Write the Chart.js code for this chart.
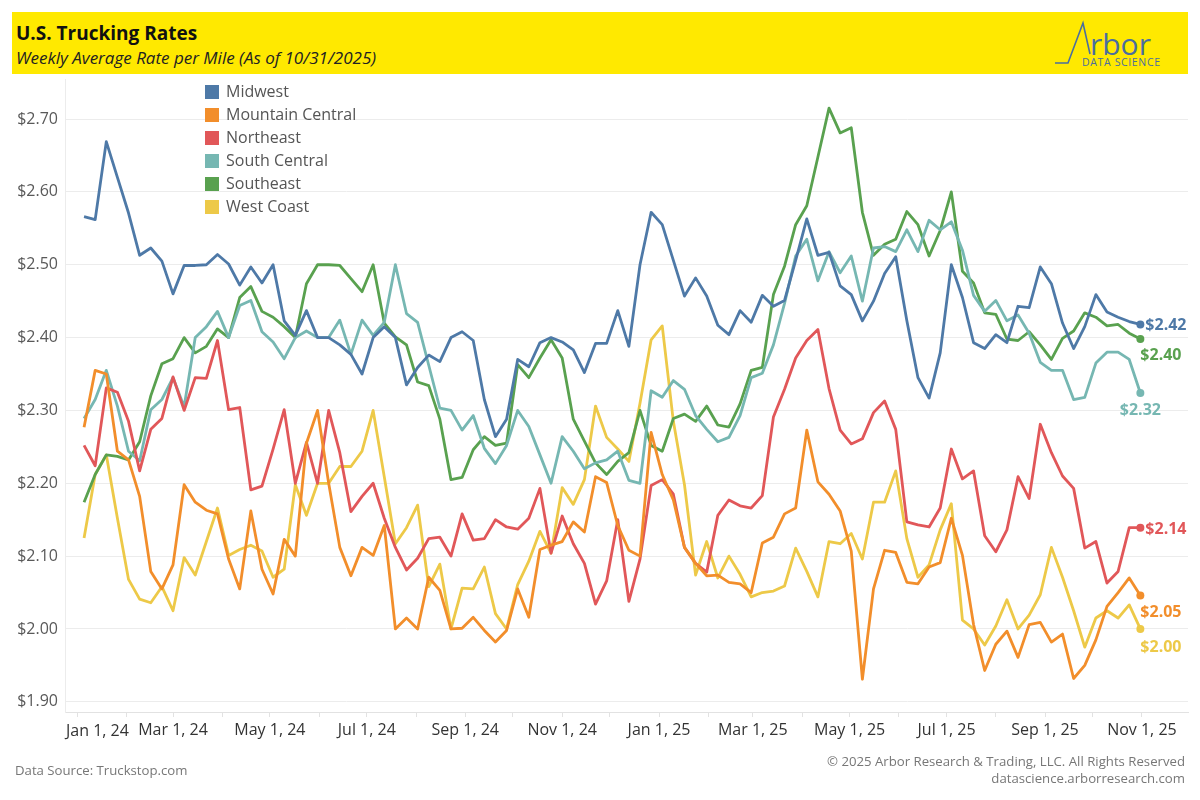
<!DOCTYPE html>
<html>
<head>
<meta charset="utf-8">
<title>U.S. Trucking Rates</title>
<script src="https://cdn.jsdelivr.net/npm/chart.js@4.4.1/dist/chart.umd.min.js"></script>
<style>
  html, body { margin: 0; padding: 0; background: #fff; }
  body { width: 1200px; height: 800px; position: relative; overflow: hidden; font-family: "Open Sans", sans-serif; }
  #chart { position: absolute; left: 0; top: 0; }
  .header { position: absolute; left: 12px; top: 12px; width: 1176px; height: 62px; background: #ffe900; }
  .title { position: absolute; left: 4px; top: 8px; font-size: 19px; font-weight: bold; color: #111; }
  .subtitle { position: absolute; left: 4px; top: 34px; font-size: 17px; font-style: italic; color: #222; }
  .logo { position: absolute; left: 0; top: 0; }
  .legend { position: absolute; left: 205px; top: 80px; font-size: 16px; color: #555; }
  .legend div { height: 23px; line-height: 23px; white-space: nowrap; }
  .legend span { display: inline-block; width: 14px; height: 14px; margin-right: 7px; vertical-align: -2px; }
  .source { position: absolute; left: 15px; top: 761px; font-size: 13.2px; color: #777; }
  .copy { position: absolute; right: 15px; top: 753px; font-size: 13.2px; color: #777; text-align: right; line-height: 17px; }
</style>
</head>
<body>
<canvas id="chart" width="1200" height="800"></canvas>
<div class="header">
  <div class="title">U.S. Trucking Rates</div>
  <div class="subtitle">Weekly Average Rate per Mile (As of 10/31/2025)</div>
</div>
<svg class="logo" width="1200" height="80">
  <polyline points="1055,63 1068,63 1083,23 1090,54" fill="none" stroke="#4a6e9f" stroke-width="1.6"/>
  <text x="1090" y="55" font-family="Open Sans" font-size="30" fill="#4a6e9f">rbor</text>
  <text x="1082" y="66" font-family="Open Sans" font-size="10.5" fill="#4a6e9f" textLength="78">DATA SCIENCE</text>
</svg>
<div class="legend" id="legend"></div>
<div class="source">Data Source: Truckstop.com</div>
<div class="copy">© 2025 Arbor Research &amp; Trading, LLC. All Rights Reserved<br>datascience.arborresearch.com</div>

<script>
// 系列名と色
const seriesNames = ['Midwest', 'Mountain Central', 'Northeast', 'South Central', 'Southeast', 'West Coast'];
const seriesColors = ['#4e79a7', '#f28e2b', '#e15759', '#76b7b2', '#59a14f', '#edc948'];

// 週次データ（2024/1/5 から 2025/10/31 まで、96週）
const firstWeekDay = 4;   // 2024/1/1 からの日数
const weekCount = 96;

const midwest = [
  2.566, 2.562, 2.669, 2.620, 2.571, 2.513, 2.523, 2.505, 2.460, 2.499, 2.499, 2.500,
  2.514, 2.501, 2.472, 2.497, 2.475, 2.500, 2.423, 2.403, 2.437, 2.400, 2.400, 2.390,
  2.377, 2.350, 2.400, 2.415, 2.400, 2.335, 2.359, 2.376, 2.367, 2.400, 2.408, 2.396,
  2.315, 2.264, 2.288, 2.370, 2.360, 2.393, 2.400, 2.394, 2.383, 2.352, 2.392, 2.392,
  2.437, 2.388, 2.500, 2.572, 2.555, 2.506, 2.457, 2.482, 2.457, 2.417, 2.404, 2.437,
  2.421, 2.458, 2.443, 2.451, 2.506, 2.563, 2.513, 2.517, 2.471, 2.459, 2.423, 2.450,
  2.488, 2.511, 2.423, 2.345, 2.317, 2.379, 2.500, 2.455, 2.393, 2.385, 2.404, 2.393,
  2.443, 2.441, 2.497, 2.474, 2.420, 2.385, 2.415, 2.459, 2.435, 2.428, 2.422, 2.418
];
const mountainCentral = [
  2.277, 2.355, 2.350, 2.244, 2.232, 2.182, 2.079, 2.055, 2.088, 2.198, 2.174, 2.163,
  2.158, 2.096, 2.055, 2.162, 2.082, 2.048, 2.123, 2.100, 2.255, 2.300, 2.200, 2.112,
  2.073, 2.112, 2.101, 2.142, 2.000, 2.015, 2.000, 2.071, 2.053, 2.000, 2.001, 2.016,
  1.998, 1.982, 1.998, 2.055, 2.016, 2.109, 2.115, 2.120, 2.147, 2.133, 2.209, 2.201,
  2.142, 2.108, 2.100, 2.270, 2.212, 2.177, 2.112, 2.090, 2.073, 2.074, 2.064, 2.062,
  2.050, 2.118, 2.126, 2.158, 2.166, 2.273, 2.202, 2.185, 2.162, 2.107, 1.931, 2.055,
  2.108, 2.105, 2.064, 2.062, 2.085, 2.091, 2.152, 2.101, 2.006, 1.943, 1.979, 1.997,
  1.961, 2.006, 2.009, 1.982, 1.993, 1.932, 1.950, 1.985, 2.031, 2.050, 2.070, 2.046
];
const northeast = [
  2.252, 2.224, 2.331, 2.325, 2.285, 2.217, 2.274, 2.289, 2.346, 2.300, 2.345, 2.344,
  2.396, 2.301, 2.304, 2.191, 2.196, 2.247, 2.301, 2.200, 2.256, 2.200, 2.300, 2.242,
  2.161, 2.182, 2.200, 2.152, 2.112, 2.081, 2.097, 2.124, 2.126, 2.100, 2.158, 2.122,
  2.124, 2.150, 2.140, 2.137, 2.152, 2.193, 2.104, 2.155, 2.117, 2.090, 2.034, 2.066,
  2.150, 2.038, 2.096, 2.197, 2.205, 2.185, 2.112, 2.090, 2.078, 2.156, 2.177, 2.169,
  2.166, 2.183, 2.291, 2.329, 2.372, 2.396, 2.411, 2.330, 2.273, 2.254, 2.261, 2.297,
  2.313, 2.274, 2.147, 2.143, 2.140, 2.166, 2.247, 2.206, 2.217, 2.128, 2.106, 2.136,
  2.209, 2.179, 2.281, 2.242, 2.210, 2.193, 2.111, 2.120, 2.063, 2.079, 2.139, 2.139
];
const southCentral = [
  2.289, 2.315, 2.355, 2.306, 2.244, 2.231, 2.301, 2.315, 2.345, 2.305, 2.400, 2.415,
  2.436, 2.400, 2.444, 2.451, 2.408, 2.394, 2.371, 2.400, 2.409, 2.400, 2.400, 2.424,
  2.377, 2.424, 2.403, 2.421, 2.500, 2.433, 2.421, 2.362, 2.303, 2.300, 2.273, 2.293,
  2.248, 2.227, 2.252, 2.300, 2.278, 2.239, 2.200, 2.264, 2.244, 2.220, 2.228, 2.232,
  2.244, 2.204, 2.200, 2.327, 2.318, 2.341, 2.329, 2.293, 2.274, 2.257, 2.263, 2.293,
  2.345, 2.351, 2.390, 2.447, 2.512, 2.535, 2.478, 2.518, 2.489, 2.512, 2.450, 2.523,
  2.525, 2.518, 2.548, 2.518, 2.561, 2.548, 2.559, 2.520, 2.458, 2.436, 2.451, 2.423,
  2.431, 2.406, 2.366, 2.355, 2.355, 2.315, 2.318, 2.365, 2.380, 2.380, 2.370, 2.324
];
const southeast = [
  2.174, 2.212, 2.239, 2.237, 2.232, 2.257, 2.320, 2.364, 2.371, 2.400, 2.379, 2.388,
  2.412, 2.400, 2.455, 2.470, 2.436, 2.428, 2.415, 2.400, 2.474, 2.500, 2.500, 2.499,
  2.481, 2.463, 2.500, 2.420, 2.401, 2.390, 2.339, 2.334, 2.288, 2.205, 2.208, 2.246,
  2.264, 2.252, 2.255, 2.363, 2.345, 2.372, 2.397, 2.372, 2.288, 2.258, 2.228, 2.212,
  2.230, 2.242, 2.300, 2.252, 2.244, 2.289, 2.295, 2.285, 2.306, 2.280, 2.277, 2.309,
  2.355, 2.359, 2.459, 2.498, 2.555, 2.581, 2.648, 2.715, 2.681, 2.688, 2.572, 2.513,
  2.528, 2.535, 2.573, 2.555, 2.512, 2.547, 2.600, 2.491, 2.475, 2.434, 2.432, 2.398,
  2.396, 2.408, 2.390, 2.370, 2.399, 2.409, 2.434, 2.428, 2.416, 2.418, 2.406, 2.398
];
const westCoast = [
  2.125, 2.212, 2.239, 2.152, 2.068, 2.041, 2.036, 2.058, 2.025, 2.098, 2.074, 2.120,
  2.166, 2.101, 2.109, 2.115, 2.107, 2.071, 2.082, 2.198, 2.156, 2.200, 2.200, 2.223,
  2.223, 2.244, 2.300, 2.209, 2.117, 2.139, 2.170, 2.058, 2.089, 2.000, 2.056, 2.055,
  2.085, 2.021, 2.000, 2.061, 2.093, 2.134, 2.104, 2.194, 2.171, 2.205, 2.306, 2.263,
  2.247, 2.230, 2.310, 2.397, 2.416, 2.285, 2.198, 2.074, 2.120, 2.070, 2.100, 2.075,
  2.044, 2.050, 2.052, 2.059, 2.111, 2.079, 2.044, 2.120, 2.117, 2.131, 2.096, 2.174,
  2.174, 2.217, 2.124, 2.071, 2.088, 2.136, 2.172, 2.012, 2.000, 1.978, 2.004, 2.040,
  2.000, 2.019, 2.047, 2.112, 2.071, 2.025, 1.975, 2.015, 2.025, 2.015, 2.033, 2.000
];
const seriesValues = [midwest, mountainCentral, northeast, southCentral, southeast, westCoast];

// 軸の目盛り
const yTicks = [1.9, 2.0, 2.1, 2.2, 2.3, 2.4, 2.5, 2.6, 2.7];
const monthNames = ['Jan', 'Feb', 'Mar', 'Apr', 'May', 'Jun', 'Jul', 'Aug', 'Sep', 'Oct', 'Nov', 'Dec'];

// 最終値ラベルの位置（ずらし量）
const endLabelOffsets = [
  { dx: 5, dy: 1, align: 'left' },
  { dx: 0, dy: 17, align: 'left' },
  { dx: 5, dy: 2, align: 'left' },
  { dx: 0, dy: 17, align: 'center' },
  { dx: 0, dy: 16, align: 'left' },
  { dx: 0, dy: 18, align: 'left' }
];

const DAY = 86400000;
const base = Date.UTC(2024, 0, 1);
const weekDays = Array.from({ length: weekCount }, (_, i) => firstWeekDay + 7 * i);

// 月初の目盛り（2024/1 〜 2025/11）
const monthTicks = [];
for (let y = 2024; y <= 2025; y++) {
  for (let m = 0; m < 12; m++) {
    if (y === 2025 && m > 10) break;
    monthTicks.push({
      value: (Date.UTC(y, m, 1) - base) / DAY,
      label: m % 2 === 0 ? monthNames[m] + ' 1, ' + String(y).slice(2) : ''
    });
  }
}
const tickLabelByDay = {};
monthTicks.forEach(t => { tickLabelByDay[t.value] = t.label; });

// 凡例
const legendEl = document.getElementById('legend');
seriesNames.forEach((name, i) => {
  const row = document.createElement('div');
  row.innerHTML = '<span style="background:' + seriesColors[i] + '"></span>' + name;
  legendEl.appendChild(row);
});

const axisFont = { family: '"Open Sans", sans-serif', size: 16 };

// 最終値ラベル
const endLabelPlugin = {
  id: 'endLabels',
  afterDatasetsDraw(chart) {
    const ctx = chart.ctx;
    chart.data.datasets.forEach((ds, i) => {
      const meta = chart.getDatasetMeta(i);
      const last = meta.data.length - 1;
      const pt = meta.data[last];
      const off = endLabelOffsets[i];
      ctx.save();
      ctx.font = 'bold 16px "Open Sans", sans-serif';
      ctx.fillStyle = ds.borderColor;
      ctx.textAlign = off.align;
      ctx.textBaseline = 'middle';
      ctx.fillText('$' + ds.data[last].y.toFixed(2), pt.x + off.dx, pt.y + off.dy);
      ctx.restore();
    });
  }
};

// 先頭の月ラベルは左寄せ
const firstLabelPlugin = {
  id: 'firstLabel',
  afterDraw(chart) {
    const ctx = chart.ctx;
    const xs = chart.scales.x;
    ctx.save();
    ctx.font = axisFont.size + 'px ' + axisFont.family;
    ctx.fillStyle = '#333';
    ctx.textAlign = 'left';
    ctx.textBaseline = 'middle';
    ctx.fillText(monthTicks[0].label, chart.chartArea.left + 1, xs.top + 19);
    ctx.restore();
  }
};

new Chart(document.getElementById('chart'), {
  type: 'line',
  data: {
    datasets: seriesNames.map((name, i) => ({
      label: name,
      data: seriesValues[i].map((v, j) => ({ x: weekDays[j], y: v })),
      borderColor: seriesColors[i],
      backgroundColor: seriesColors[i],
      borderWidth: 2.8,
      borderJoinStyle: 'round',
      tension: 0,
      pointRadius: c => (c.dataIndex === weekCount - 1 ? 4 : 0),
      pointBorderWidth: 0,
      pointHoverRadius: 0
    }))
  },
  options: {
    responsive: false,
    animation: false,
    events: [],
    layout: { padding: { top: 79, right: 12, bottom: 48, left: 0 } },
    plugins: { legend: { display: false }, tooltip: { enabled: false } },
    scales: {
      x: {
        type: 'linear',
        min: -8,
        max: 699,
        afterBuildTicks: s => { s.ticks = monthTicks.map(t => ({ value: t.value })); },
        afterFit: s => { s.height = 40; },
        grid: { drawOnChartArea: false, drawTicks: true, tickLength: 5, color: '#e2e2e2' },
        border: { color: '#e2e2e2' },
        ticks: {
          autoSkip: false,
          maxRotation: 0,
          padding: 4,
          color: '#333',
          font: axisFont,
          callback: (v, i) => (i === 0 ? '' : tickLabelByDay[v])
        }
      },
      y: {
        min: 1.886,
        max: 2.755,
        afterBuildTicks: s => { s.ticks = yTicks.map(v => ({ value: v })); },
        afterFit: s => { s.width = 65; },
        grid: { color: '#ececec', drawTicks: false },
        border: { color: '#ececec' },
        ticks: {
          padding: 7,
          color: '#595959',
          font: axisFont,
          callback: v => '$' + v.toFixed(2)
        }
      }
    }
  },
  plugins: [endLabelPlugin, firstLabelPlugin]
});
</script>
</body>
</html>
